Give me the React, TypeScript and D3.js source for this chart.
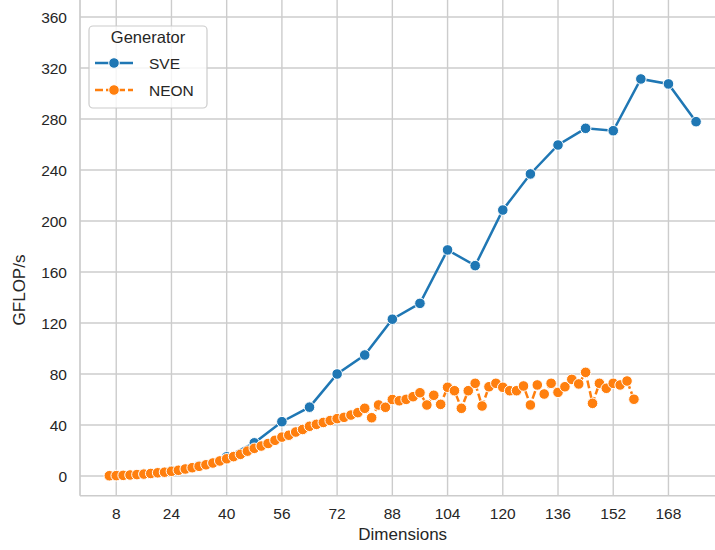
import React from 'react'
import * as d3 from 'd3'

// dims / GFLOP/s
const sveDims = [8, 16, 24, 32, 40, 48, 56, 64, 72, 80, 88, 96, 104, 112, 120, 128, 136, 144, 152, 160, 168, 176]
const sveValues = [0.3, 1.5, 4, 8, 15, 26, 42.6, 54, 80, 94.9, 123, 135.4, 177.3, 165, 208.6, 236.9, 259.6, 272.7, 270.8, 311.4, 307.5, 277.9]

const neonDims = d3.range(6, 159, 2)
const neonValues = [
  0.2, 0.3, 0.5, 0.8, 1.1, 1.5, 2.0, 2.5, 3.0, 3.7,
  4.5, 5.5, 6.5, 7.6, 8.8, 10.2, 11.8, 13.5, 15.2, 17,
  19.5, 21.7, 23.5, 25.5, 28, 30.5, 32, 34.5, 36.5, 39,
  40.5, 42, 43.5, 45, 46, 47.8, 49.7, 53.1, 45.7, 55.7,
  53.9, 60, 59, 60.1, 62.2, 65.3, 55.7, 63.3, 56.2, 69.6,
  66.9, 53.1, 66.9, 72.7, 54.9, 70, 72.7, 69.6, 66.9, 66.9,
  70.6, 55.7, 71.4, 64.3, 72.7, 65.6, 70, 75.8, 72.2, 81.3,
  57, 72.7, 68.8, 72.7, 71.4, 74.5, 60.2,
]

const xTicks = [8, 24, 40, 56, 72, 88, 104, 120, 136, 152, 168]
const yTicks = [0, 40, 80, 120, 160, 200, 240, 280, 320, 360]

const series = [
  { name: 'SVE', color: '#1f77b4', dash: null, dims: sveDims, values: sveValues },
  { name: 'NEON', color: '#ff7f0e', dash: '8,3', dims: neonDims, values: neonValues },
]

const W = 715
const H = 550
const font = "'Liberation Sans', Arial, sans-serif"
const textColor = '#262626'
const gridColor = '#cccccc'
const markerR = 5.3

export default function App() {
  const x = d3.scaleLinear().domain([-2.5, 184.5]).range([80, 725.4])
  const y = d3.scaleLinear().domain([0, 360]).range([476, 17])
  const left = x(-2.5)
  const bottom = y(-15.5)

  const line = d3
    .line<[number, number]>()
    .x(d => x(d[0]))
    .y(d => y(d[1]))

  return (
    <svg width={W} height={H} style={{ position: 'absolute', left: 0, top: 0, background: '#fff' }} fontFamily={font}>
      <rect width={W} height={H} fill="#fff" />
      {xTicks.map(t => (
        <line key={'gx' + t} x1={x(t)} x2={x(t)} y1={0} y2={bottom} stroke={gridColor} strokeWidth={1.4} />
      ))}
      {yTicks.map(t => (
        <line key={'gy' + t} x1={left} x2={W} y1={y(t)} y2={y(t)} stroke={gridColor} strokeWidth={1.4} />
      ))}
      <line x1={left} x2={left} y1={0} y2={bottom} stroke={gridColor} strokeWidth={1.7} />
      <line x1={left} x2={W} y1={bottom} y2={bottom} stroke={gridColor} strokeWidth={1.7} />

      {xTicks.map(t => (
        <text key={'tx' + t} x={x(t)} y={519} textAnchor="middle" fontSize={15.5} fill={textColor}>{t}</text>
      ))}
      {yTicks.map(t => (
        <text key={'ty' + t} x={67} y={y(t) + 5.5} textAnchor="end" fontSize={15.5} fill={textColor}>{t}</text>
      ))}
      <text x={(left + 725.4) / 2} y={539.5} textAnchor="middle" fontSize={17} fill={textColor}>Dimensions</text>
      <text transform={`translate(25, 290) rotate(-90)`} textAnchor="middle" fontSize={17} fill={textColor}>GFLOP/s</text>

      {series.map(s => {
        const pts = s.dims.map((d, i) => [d, s.values[i]] as [number, number])
        return (
          <g key={s.name}>
            <path d={line(pts) || ''} fill="none" stroke={s.color} strokeWidth={2.5} strokeDasharray={s.dash || undefined} />
            {pts.map((p, i) => (
              <circle key={i} cx={x(p[0])} cy={y(p[1])} r={markerR} fill={s.color} stroke="#fff" strokeWidth={1} />
            ))}
          </g>
        )
      })}

      <g>
        <rect x={89} y={26} width={118} height={82} rx={4} fill="#fff" fillOpacity={0.8} stroke={gridColor} strokeWidth={1.2} />
        <text x={148} y={43} textAnchor="middle" fontSize={16.5} fill={textColor}>Generator</text>
        {series.map((s, i) => {
          const ly = 63 + i * 27
          return (
            <g key={'lg' + s.name}>
              <line x1={95} x2={133} y1={ly} y2={ly} stroke={s.color} strokeWidth={2.5} strokeDasharray={s.dash || undefined} />
              <circle cx={114} cy={ly} r={markerR} fill={s.color} stroke="#fff" strokeWidth={1} />
              <text x={149} y={ly + 5.5} fontSize={15.5} fill={textColor}>{s.name}</text>
            </g>
          )
        })}
      </g>
    </svg>
  )
}
